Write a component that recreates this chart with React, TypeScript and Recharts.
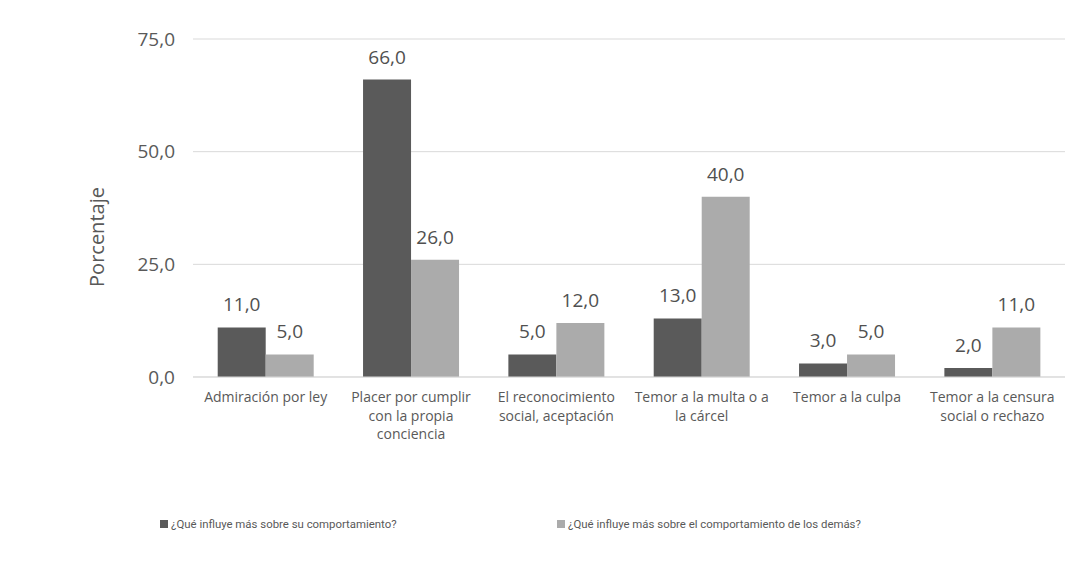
import React from "react"
import { BarChart, Bar, XAxis, YAxis, CartesianGrid, LabelList } from "recharts"

// categorias (\n = quebra de linha do rótulo)
const categories = [
  "Admiración por ley",
  "Placer por cumplir\ncon la propia\nconciencia",
  "El reconocimiento\nsocial, aceptación",
  "Temor a la multa o a\nla cárcel",
  "Temor a la culpa",
  "Temor a la censura\nsocial o rechazo",
]

const propio = [11, 66, 5, 13, 3, 2]
const demas = [5, 26, 12, 40, 5, 11]

const seriesNames = [
  "¿Qué influye más sobre su comportamiento?",
  "¿Qué influye más sobre el comportamiento de los demás?",
]

const yTicks = [0, 25, 50, 75]

const DARK = "#5a5a5a"
const LIGHT = "#ababab"
const TEXT = "#595959"
const FONT = "'Open Sans', 'DejaVu Sans', sans-serif"

const data = categories.map((c, i) => ({ name: c, propio: propio[i], demas: demas[i] }))

const fmt = (v: number) => v.toFixed(1).replace(".", ",")

const CategoryTick = ({ x, y, payload }: any) => {
  const lines = String(payload.value).split("\n")
  return (
    <text x={x} y={y + 17} textAnchor="middle" fill={TEXT} fontSize={14} fontFamily={FONT}>
      {lines.map((l, i) => (
        <tspan key={i} x={x} dy={i === 0 ? 0 : 18.5}>
          {l}
        </tspan>
      ))}
    </text>
  )
}

export default function App() {
  return (
    <div style={{ position: "relative", width: 1075, height: 560 }}>
      <BarChart
        width={1075}
        height={560}
        data={data}
        margin={{ top: 31, right: 18, bottom: 0, left: 0 }}
        barCategoryGap="17%"
        barGap={0}
      >
        <CartesianGrid vertical={false} stroke="#d9d9d9" />
        <XAxis
          dataKey="name"
          height={191}
          axisLine={{ stroke: "#d9d9d9" }}
          tickLine={false}
          tick={<CategoryTick />}
          interval={0}
        />
        <YAxis
          width={185}
          domain={[0, 75]}
          ticks={yTicks}
          tickFormatter={fmt}
          axisLine={false}
          tickLine={false}
          tickMargin={12}
          tick={{ fill: TEXT, fontSize: 19, fontFamily: FONT }}
          label={{
            value: "Porcentaje",
            angle: -90,
            position: "insideLeft",
            offset: 89,
            dy: 29,
            style: { fill: TEXT, fontSize: 20, fontFamily: FONT, textAnchor: "middle" },
          }}
        />
        <Bar dataKey="propio" fill={DARK} isAnimationActive={false}>
          <LabelList dataKey="propio" position="top" offset={16} formatter={fmt} fill="#505050" fontSize={19} fontFamily={FONT} />
        </Bar>
        <Bar dataKey="demas" fill={LIGHT} isAnimationActive={false}>
          <LabelList dataKey="demas" position="top" offset={16} formatter={fmt} fill="#505050" fontSize={19} fontFamily={FONT} />
        </Bar>
      </BarChart>
      {/* legenda */}
      <div
        style={{
          position: "absolute",
          top: 509,
          left: 152,
          display: "flex",
          fontFamily: "'Liberation Sans Narrow', Roboto, sans-serif",
          fontSize: 11.4,
          color: TEXT,
        }}
      >
        {seriesNames.map((n, i) => (
          <div key={n} style={{ display: "flex", alignItems: "center", width: 397 }}>
            <span style={{ display: "inline-block", width: 8, height: 8, background: i === 0 ? DARK : LIGHT, marginRight: 3 }} />
            <span>{n}</span>
          </div>
        ))}
      </div>
    </div>
  )
}
